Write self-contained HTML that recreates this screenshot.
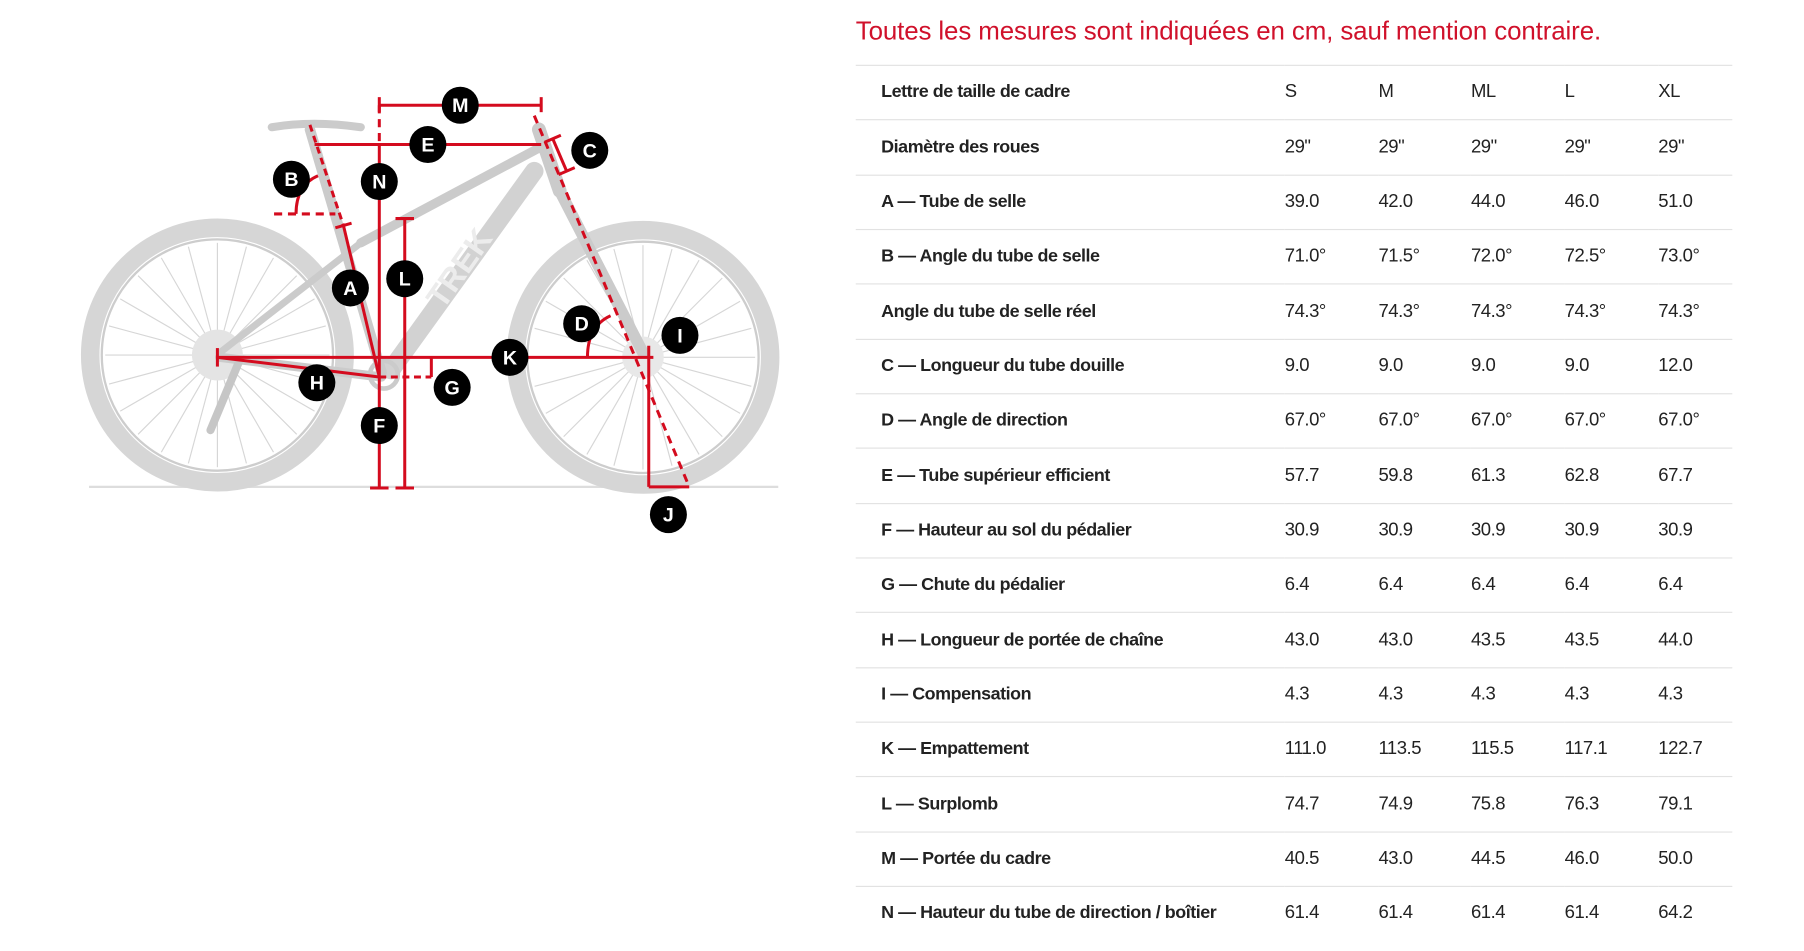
<!DOCTYPE html>
<html><head><meta charset="utf-8"><style>
html,body{margin:0;padding:0;background:#fff;width:1804px;height:950px;overflow:hidden}
#w{position:absolute;left:0;top:0;width:1560px;height:822px;transform:scale(1.15641);transform-origin:0 0;font-family:"Liberation Sans",sans-serif}
#t{position:absolute;left:740px;top:14px;font-size:22.4px;color:#d0112b;letter-spacing:-0.1px;white-space:nowrap}
table{position:absolute;left:740px;top:56px;width:758px;border-collapse:collapse;table-layout:fixed}
td{height:46.35px;border-top:1px solid #e2e2e2;padding:0;font-size:16px;color:#222;letter-spacing:-0.4px;white-space:nowrap;overflow:visible}
td:first-child{padding-left:22px;font-weight:bold;font-size:15.5px}
</style></head><body><div id="w">
<svg width="1560" height="822" style="position:absolute;left:0;top:0">
<defs>
<g id="sp"><line x1="0" y1="-97" x2="0" y2="-10" stroke="#d6d6d6" stroke-width="1"/></g>
</defs>
<line x1="77" y1="421" x2="673" y2="421" stroke="#ddd" stroke-width="2"/>
<g transform="translate(188,307)">
<circle r="110" fill="none" stroke="#d6d6d6" stroke-width="16"/>
<circle r="100" fill="none" stroke="#cdcdcd" stroke-width="2"/>
<use href="#sp"/><use href="#sp" transform="rotate(15)"/><use href="#sp" transform="rotate(30)"/><use href="#sp" transform="rotate(45)"/><use href="#sp" transform="rotate(60)"/><use href="#sp" transform="rotate(75)"/><use href="#sp" transform="rotate(90)"/><use href="#sp" transform="rotate(105)"/><use href="#sp" transform="rotate(120)"/><use href="#sp" transform="rotate(135)"/><use href="#sp" transform="rotate(150)"/><use href="#sp" transform="rotate(165)"/><use href="#sp" transform="rotate(180)"/><use href="#sp" transform="rotate(195)"/><use href="#sp" transform="rotate(210)"/><use href="#sp" transform="rotate(225)"/><use href="#sp" transform="rotate(240)"/><use href="#sp" transform="rotate(255)"/><use href="#sp" transform="rotate(270)"/><use href="#sp" transform="rotate(285)"/><use href="#sp" transform="rotate(300)"/><use href="#sp" transform="rotate(315)"/><use href="#sp" transform="rotate(330)"/><use href="#sp" transform="rotate(345)"/>
<circle r="22" fill="#e4e4e4"/>
</g>
<g transform="translate(556,309)">
<circle r="110" fill="none" stroke="#d6d6d6" stroke-width="16"/>
<circle r="100" fill="none" stroke="#cdcdcd" stroke-width="2"/>
<use href="#sp"/><use href="#sp" transform="rotate(15)"/><use href="#sp" transform="rotate(30)"/><use href="#sp" transform="rotate(45)"/><use href="#sp" transform="rotate(60)"/><use href="#sp" transform="rotate(75)"/><use href="#sp" transform="rotate(90)"/><use href="#sp" transform="rotate(105)"/><use href="#sp" transform="rotate(120)"/><use href="#sp" transform="rotate(135)"/><use href="#sp" transform="rotate(150)"/><use href="#sp" transform="rotate(165)"/><use href="#sp" transform="rotate(180)"/><use href="#sp" transform="rotate(195)"/><use href="#sp" transform="rotate(210)"/><use href="#sp" transform="rotate(225)"/><use href="#sp" transform="rotate(240)"/><use href="#sp" transform="rotate(255)"/><use href="#sp" transform="rotate(270)"/><use href="#sp" transform="rotate(285)"/><use href="#sp" transform="rotate(300)"/><use href="#sp" transform="rotate(315)"/><use href="#sp" transform="rotate(330)"/><use href="#sp" transform="rotate(345)"/>
<circle r="18" fill="#e8e8e8"/>
</g>
<g stroke="#cbcbcb" stroke-linecap="round" fill="none">
<line x1="466" y1="128" x2="312" y2="210" stroke-width="8"/>
<line x1="462" y1="148" x2="338" y2="320" stroke-width="16" stroke="#d2d2d2"/>
<line x1="268" y1="112" x2="330" y2="322" stroke-width="9"/>
<line x1="312" y1="210" x2="190" y2="305" stroke-width="6"/>
<line x1="190" y1="309" x2="330" y2="326" stroke-width="8"/>
<line x1="466" y1="112" x2="484" y2="165" stroke-width="12"/>
<line x1="484" y1="165" x2="556" y2="305" stroke-width="10"/>
<path d="M235 110 Q270 104 312 110" stroke-width="7"/>
<line x1="207" y1="312" x2="182" y2="372" stroke-width="7" stroke="#c6c6c6"/>
<circle cx="332" cy="324" r="12" stroke-width="4"/>
</g>
<text x="400" y="240" text-anchor="middle" font-family="Liberation Sans" font-weight="bold" font-size="28" fill="#ececec" transform="rotate(-55 400 234)">TREK</text>
<g stroke="#d40b1e" stroke-width="2.6" fill="none">
<line x1="328" y1="91" x2="468" y2="91"/><line x1="328" y1="84" x2="328" y2="97"/><line x1="468" y1="84" x2="468" y2="97"/>
<line x1="328" y1="91" x2="328" y2="125" stroke-dasharray="7,5"/>
<line x1="272" y1="125" x2="468" y2="125"/>
<line x1="328" y1="125" x2="328" y2="422"/><line x1="320" y1="422" x2="336" y2="422"/>
<line x1="350" y1="189" x2="350" y2="422"/><line x1="342" y1="189" x2="358" y2="189"/><line x1="342" y1="422" x2="358" y2="422"/>
<line x1="268" y1="108" x2="297" y2="195" stroke-dasharray="6,4"/>
<line x1="290" y1="197" x2="304" y2="193"/>
<line x1="297" y1="195" x2="328" y2="326"/>
<line x1="237" y1="185" x2="290" y2="185" stroke-dasharray="7,5"/>
<path d="M256 185 Q256 160 275 152"/>
<line x1="188" y1="309" x2="565" y2="309"/><line x1="188" y1="301" x2="188" y2="317"/>
<line x1="188" y1="309" x2="328" y2="326"/>
<line x1="328" y1="326" x2="373" y2="326" stroke-dasharray="6,4"/><line x1="373" y1="309" x2="373" y2="326"/>
<line x1="561" y1="299" x2="561" y2="421"/><line x1="561" y1="421" x2="596" y2="421"/>
<line x1="462" y1="100" x2="596" y2="421" stroke-dasharray="7,5"/>
<line x1="478" y1="120" x2="490" y2="148"/><line x1="471" y1="123" x2="485" y2="117"/><line x1="483" y1="151" x2="497" y2="145"/>
<path d="M508 309 Q508 282 528 273"/>
</g>
<g font-family="Liberation Sans" font-weight="bold" font-size="17" fill="#fff" text-anchor="middle">
<g fill="#000"><circle cx="398" cy="91" r="16"/><circle cx="370" cy="125" r="16"/><circle cx="510" cy="130" r="16"/><circle cx="252" cy="155" r="16"/><circle cx="328" cy="157" r="16"/><circle cx="303" cy="249" r="16"/><circle cx="350" cy="241" r="16"/><circle cx="503" cy="280" r="16"/><circle cx="588" cy="290" r="16"/><circle cx="441" cy="309" r="16"/><circle cx="274" cy="331" r="16"/><circle cx="391" cy="335" r="16"/><circle cx="328" cy="368" r="16"/><circle cx="578" cy="445" r="16"/></g>
<text x="398" y="97">M</text><text x="370" y="131">E</text><text x="510" y="136">C</text><text x="252" y="161">B</text><text x="328" y="163">N</text><text x="303" y="255">A</text><text x="350" y="247">L</text><text x="503" y="286">D</text><text x="588" y="296">I</text><text x="441" y="315">K</text><text x="274" y="337">H</text><text x="391" y="341">G</text><text x="328" y="374">F</text><text x="578" y="451">J</text>
</g>
</svg>
<div id="t">Toutes les mesures sont indiquées en cm, sauf mention contraire.</div>
<table>
<colgroup><col style="width:371px"><col style="width:81px"><col style="width:80px"><col style="width:81px"><col style="width:81px"><col></colgroup>
<tr><td>Lettre de taille de cadre</td><td>S</td><td>M</td><td>ML</td><td>L</td><td>XL</td></tr>
<tr><td>Diamètre des roues</td><td>29"</td><td>29"</td><td>29"</td><td>29"</td><td>29"</td></tr>
<tr><td>A — Tube de selle</td><td>39.0</td><td>42.0</td><td>44.0</td><td>46.0</td><td>51.0</td></tr>
<tr><td>B — Angle du tube de selle</td><td>71.0°</td><td>71.5°</td><td>72.0°</td><td>72.5°</td><td>73.0°</td></tr>
<tr><td>Angle du tube de selle réel</td><td>74.3°</td><td>74.3°</td><td>74.3°</td><td>74.3°</td><td>74.3°</td></tr>
<tr><td>C — Longueur du tube douille</td><td>9.0</td><td>9.0</td><td>9.0</td><td>9.0</td><td>12.0</td></tr>
<tr><td>D — Angle de direction</td><td>67.0°</td><td>67.0°</td><td>67.0°</td><td>67.0°</td><td>67.0°</td></tr>
<tr><td>E — Tube supérieur efficient</td><td>57.7</td><td>59.8</td><td>61.3</td><td>62.8</td><td>67.7</td></tr>
<tr><td>F — Hauteur au sol du pédalier</td><td>30.9</td><td>30.9</td><td>30.9</td><td>30.9</td><td>30.9</td></tr>
<tr><td>G — Chute du pédalier</td><td>6.4</td><td>6.4</td><td>6.4</td><td>6.4</td><td>6.4</td></tr>
<tr><td>H — Longueur de portée de chaîne</td><td>43.0</td><td>43.0</td><td>43.5</td><td>43.5</td><td>44.0</td></tr>
<tr><td>I — Compensation</td><td>4.3</td><td>4.3</td><td>4.3</td><td>4.3</td><td>4.3</td></tr>
<tr><td>K — Empattement</td><td>111.0</td><td>113.5</td><td>115.5</td><td>117.1</td><td>122.7</td></tr>
<tr><td>L — Surplomb</td><td>74.7</td><td>74.9</td><td>75.8</td><td>76.3</td><td>79.1</td></tr>
<tr><td>M — Portée du cadre</td><td>40.5</td><td>43.0</td><td>44.5</td><td>46.0</td><td>50.0</td></tr>
<tr><td>N — Hauteur du tube de direction / boîtier</td><td>61.4</td><td>61.4</td><td>61.4</td><td>61.4</td><td>64.2</td></tr>
</table>
</div></body></html>
